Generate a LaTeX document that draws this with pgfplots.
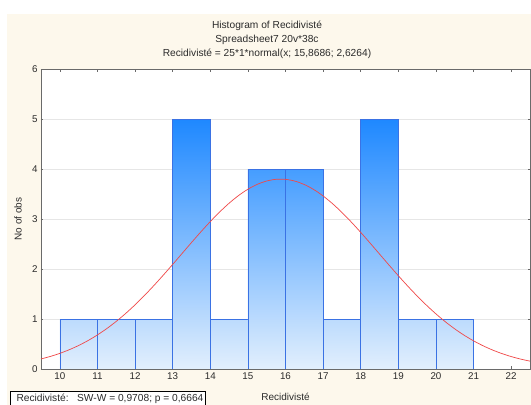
\documentclass[border=0pt]{standalone}
\usepackage{pgfplots}
\pgfplotsset{compat=1.18}
\usepackage{fontspec}
\setmainfont{Liberation Sans}
\definecolor{StBack}{HTML}{FDF8EC}
\definecolor{StAxis}{HTML}{6A6A6A}
\definecolor{StGrid}{HTML}{E6E6E6}
\definecolor{StEdge}{HTML}{3A72E4}
\definecolor{StLow}{HTML}{E2EFFD}
\definecolor{StTop1}{HTML}{BCDBFD}
\definecolor{StTop4}{HTML}{459DFF}
\definecolor{StTop5}{HTML}{1E88FF}
\definecolor{StCurve}{HTML}{F04848}
\definecolor{StText}{HTML}{2B2B2B}

\begin{document}
\begin{tikzpicture}
% page background: white strip on top and left, cream panel
\fill[white] (-41bp,-36bp) rectangle (490bp,369bp);
\fill[StBack] (-34bp,-40bp) rectangle (492bp,355bp);
\begin{axis}[
    scale only axis,
    width=489bp,
    height=300bp,
    xmin=9.5, xmax=22.5,
    ymin=0, ymax=6,
    xtick={10,11,...,22},
    ytick={0,1,...,6},
    tick pos=both,
    tick align=inside,
    major tick length=2.5bp,
    tick style={StAxis, line width=0.5bp},
    ymajorgrids=true,
    grid style={StGrid, line width=0.8bp},
    axis background/.style={fill=white},
    axis line style={StAxis, line width=0.9bp},
    ticklabel style={font=\fontsize{9.8bp}{11bp}\selectfont, text=StText},
    /pgf/number format/assume math mode=true,
    xlabel={Recidivisté},
    ylabel={No of obs},
    every axis x label/.style={at={(axis description cs:0.5,0)}, yshift=-28bp,
        anchor=center, font=\fontsize{10bp}{11bp}\selectfont, text=StText},
    every axis y label/.style={at={(axis description cs:0,0.5)}, xshift=-23bp,
        rotate=90, anchor=center, font=\fontsize{10bp}{11bp}\selectfont, text=StText},
    clip=true,
]
% bins of height 1
\addplot[ybar, bar width=1, bar shift=0pt, draw=StEdge, line width=0.6bp,
    top color=StTop1, bottom color=StLow] coordinates {
    (10.5,1) (11.5,1) (12.5,1) (14.5,1) (17.5,1) (19.5,1) (20.5,1)
};
% bins of height 4
\addplot[ybar, bar width=1, bar shift=0pt, draw=StEdge, line width=0.6bp,
    top color=StTop4, bottom color=StLow] coordinates {
    (15.5,4) (16.5,4)
};
% bins of height 5
\addplot[ybar, bar width=1, bar shift=0pt, draw=StEdge, line width=0.6bp,
    top color=StTop5, bottom color=StLow] coordinates {
    (13.5,5) (18.5,5)
};
% fitted normal curve, 25*1*normal(x; 15.8686; 2.6264)
\addplot[StCurve, line width=0.7bp, smooth, mark=none] coordinates {
    (9.5,0.2008) (9.75,0.2517) (10,0.3128) (10.25,0.3853) (10.5,0.4701)
    (10.75,0.5685) (11,0.6813) (11.25,0.8090) (11.5,0.9521) (11.75,1.1104)
    (12,1.2834) (12.25,1.4700) (12.5,1.6683) (12.75,1.8765) (13,2.0914)
    (13.25,2.3101) (13.5,2.5286) (13.75,2.7428) (14,2.9483) (14.25,3.1406)
    (14.5,3.3153) (14.75,3.4682) (15,3.5953) (15.25,3.6935) (15.5,3.7602)
    (15.75,3.7936) (16,3.7927) (16.25,3.7576) (16.5,3.6892) (16.75,3.5895)
    (17,3.4609) (17.25,3.3069) (17.5,3.1311) (17.75,2.9380) (18,2.7320)
    (18.25,2.5175) (18.5,2.2989) (18.75,2.0803) (19,1.8656) (19.25,1.6579)
    (19.5,1.4601) (19.75,1.2741) (20,1.1019) (20.25,0.9444) (20.5,0.8021)
    (20.75,0.6750) (21,0.5632) (21.25,0.4655) (21.5,0.3813) (21.75,0.3094)
    (22,0.2489) (22.25,0.1985) (22.5,0.1568)
};
\end{axis}
% title block
\node[align=center, text=StText, font=\fontsize{10.2bp}{14bp}\selectfont] at (226bp,329bp)
    {Histogram of Recidivisté\\Spreadsheet7 20v*38c\\Recidivisté = 25*1*normal(x; 15,8686; 2,6264)};
% normality test box
\draw[black, line width=0.7bp, fill=white] (-31bp,-22bp) rectangle (164bp,-42bp);
\node[anchor=west, text=StText, font=\fontsize{10.2bp}{11bp}\selectfont] at (-28bp,-29.5bp)
    {Recidivisté:\ \ \ SW-W = 0,9708; p = 0,6664};
\pgfresetboundingbox
\path[use as bounding box] (-41bp,-36bp) rectangle (490bp,369bp);
\end{tikzpicture}
\end{document}
